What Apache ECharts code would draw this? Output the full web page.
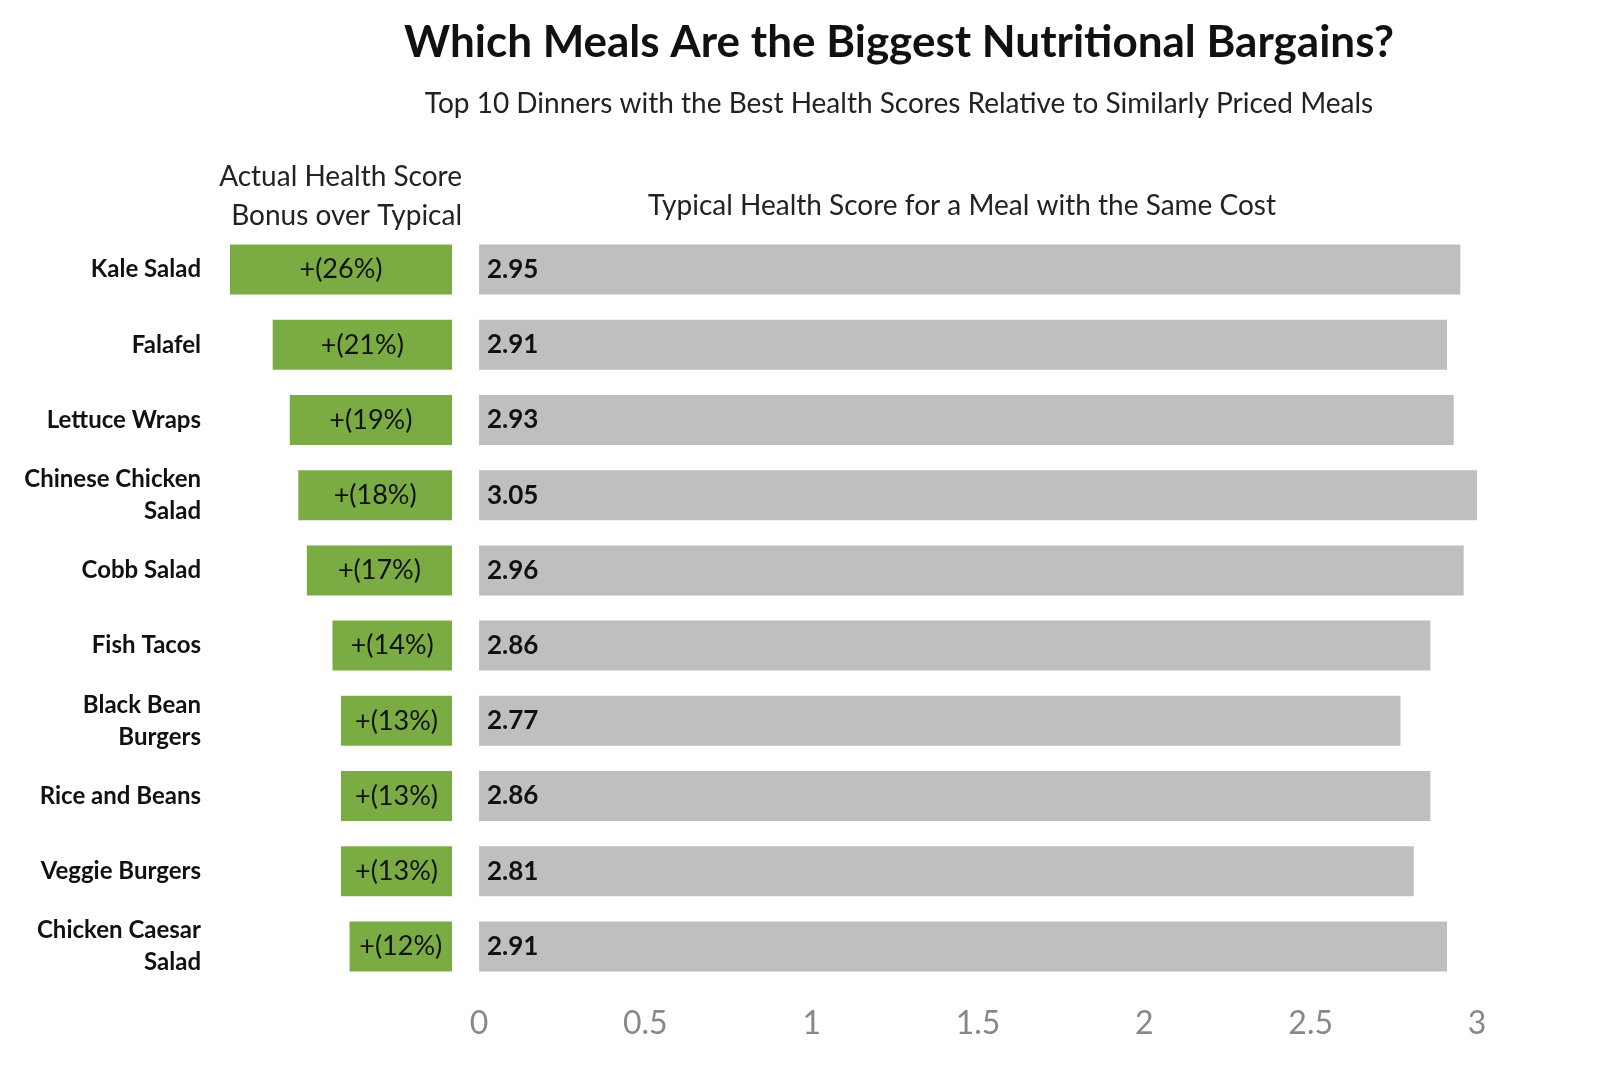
<!DOCTYPE html>
<html><head><meta charset="utf-8">
<script src="https://cdn.jsdelivr.net/npm/echarts@6/dist/echarts.min.js"></script>
<style>html,body{margin:0;background:#fff}#main{width:1618px;height:1065px}</style>
</head><body><div id="main"></div>
<script>
var meals = ['Kale Salad', 'Falafel', 'Lettuce Wraps', 'Chinese Chicken\nSalad', 'Cobb Salad', 'Fish Tacos', 'Black Bean\nBurgers', 'Rice and Beans', 'Veggie Burgers', 'Chicken Caesar\nSalad'];
var bonusPct = [26, 21, 19, 18, 17, 14, 13, 13, 13, 12];
var typicalScore = [2.95, 2.91, 2.93, 3.05, 2.96, 2.86, 2.77, 2.86, 2.81, 2.91];
var tickLabels = ['0', '0.5', '1', '1.5', '2', '2.5', '3'];

var font = 'Lato, "Open Sans", sans-serif';
var option = {
    textStyle: {fontFamily: font},
    title: [
        {text: 'Which Meals Are the Biggest Nutritional Bargains?', left: 894, top: 16, textAlign: 'center',
            textStyle: {fontSize: 44, fontWeight: 'bold', color: '#111', fontFamily: font}},
        {text: 'Top 10 Dinners with the Best Health Scores Relative to Similarly Priced Meals', left: 894, top: 85, textAlign: 'center',
            textStyle: {fontSize: 28, fontWeight: 'normal', color: '#222', fontFamily: font}},
        {text: 'Actual Health Score\nBonus over Typical', left: 457, top: 152, textAlign: 'right',
            textStyle: {fontSize: 28, fontWeight: 'normal', color: '#222', lineHeight: 39, align: 'right', fontFamily: font}},
        {text: 'Typical Health Score for a Meal with the Same Cost', left: 957, top: 187, textAlign: 'center',
            textStyle: {fontSize: 28, fontWeight: 'normal', color: '#222', fontFamily: font}}
    ],
    grid: [
        {left: 230, width: 222, top: 232, height: 752},
        {left: 479, width: 998, top: 232, height: 752}
    ],
    xAxis: [
        {gridIndex: 0, type: 'value', min: 0, max: 26, inverse: true, show: false},
        {gridIndex: 1, type: 'value', min: 0, max: 3, interval: 0.5,
            axisLine: {show: false}, axisTick: {show: false}, splitLine: {show: false},
            axisLabel: {fontSize: 32, color: '#888', margin: 24,
                formatter: function (v) { return tickLabels[Math.round(v * 2)]; }}}
    ],
    yAxis: [
        {gridIndex: 0, type: 'category', data: meals, inverse: true, position: 'left',
            axisLine: {show: false, onZero: false}, axisTick: {show: false},
            axisLabel: {fontSize: 24, fontWeight: 'bold', color: '#111', margin: 29, align: 'right', lineHeight: 32}},
        {gridIndex: 1, type: 'category', data: meals, inverse: true, show: false}
    ],
    series: [
        {type: 'bar', xAxisIndex: 0, yAxisIndex: 0, data: bonusPct, barWidth: 50,
            itemStyle: {color: '#7aac43'},
            label: {show: true, position: 'inside', fontSize: 27, color: '#111',
                formatter: function (p) { return '+(' + p.value + '%)'; }}},
        {type: 'bar', xAxisIndex: 1, yAxisIndex: 1, data: typicalScore, barWidth: 50,
            itemStyle: {color: '#bfbfbf'},
            label: {show: true, position: 'insideLeft', distance: 8, fontSize: 26, fontWeight: 'bold', color: '#111',
                formatter: function (p) { return p.value.toFixed(2); }}}
    ]
};
echarts.init(document.getElementById('main')).setOption(option);
</script></body></html>
